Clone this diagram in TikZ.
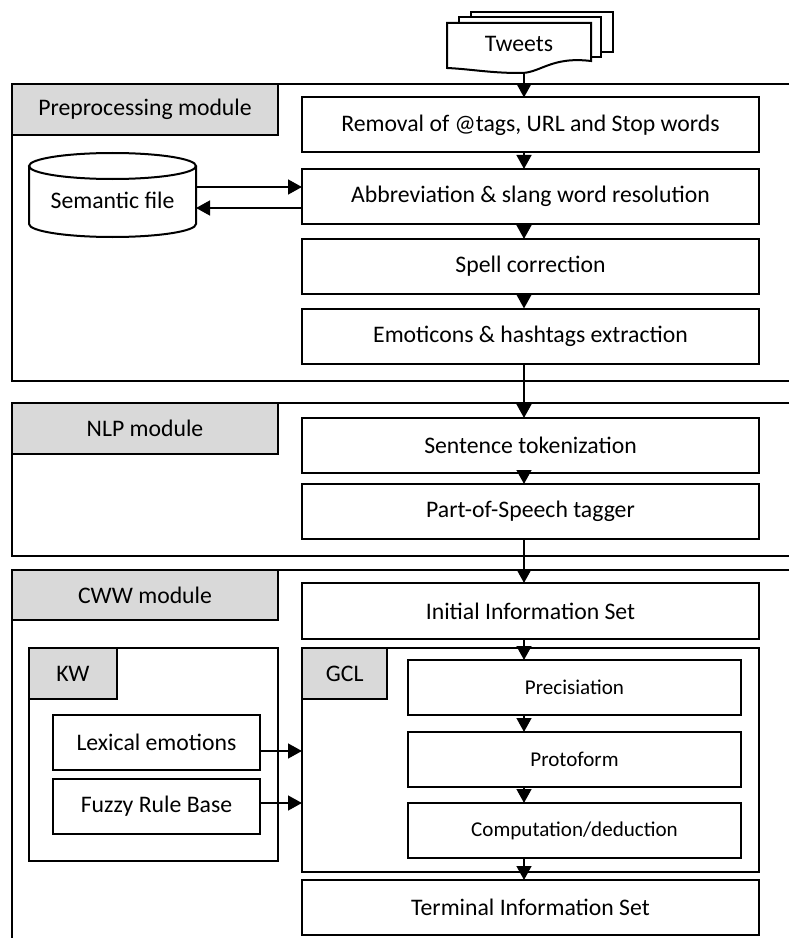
\documentclass[tikz,border=0pt]{standalone}
\usepackage{fontspec}
\setmainfont{Carlito}
\usetikzlibrary{arrows.meta,calc}
\definecolor{lblgray}{HTML}{D9D9D9}
\begin{document}
\begin{tikzpicture}[x=0.75pt,y=-0.75pt,
  every node/.style={inner sep=0pt,outer sep=0pt},
  frame/.style={line width=1.5pt},
  stepbox/.style={draw,line width=1.5pt,fill=white,minimum width=342.75pt,minimum height=41.25pt,font=\fontsize{17.8}{20}\selectfont},
  smallbox/.style={draw,line width=1.5pt,fill=white,minimum width=249.75pt,minimum height=41.25pt,font=\fontsize{15.8}{18}\selectfont},
  kwbox/.style={draw,line width=1.5pt,fill=white,minimum width=155.25pt,minimum height=41.25pt,font=\fontsize{17.8}{20}\selectfont},
  lbl/.style={draw,line width=1.5pt,fill=lblgray,anchor=north west,minimum height=38.25pt,font=\fontsize{17.8}{20}\selectfont},
  arr/.style={line width=1.9pt,-{Triangle[length=10.5pt,width=11pt]}}]
\useasboundingbox (0,0) rectangle (789,938);
% ---- module frames (open on the right)
\draw[frame] (789,84) -- (12,84) -- (12,381) -- (789,381);
\draw[frame] (789,403) -- (12,403) -- (12,556) -- (789,556);
\draw[frame] (789,570) -- (12,570) -- (12,940);
\node[lbl,minimum width=199.5pt] (prelbl) at (12,84) {Preprocessing module};
\node[lbl,minimum width=199.5pt] (nlplbl) at (12,403) {NLP module};
\node[lbl,minimum width=199.5pt,minimum height=37.5pt] (cwwlbl) at (12,570) {CWW module};
% ---- Tweets (multiple document)
\draw[line width=1.5pt,fill=white] (471,52) -- (471,12) -- (613,12) -- (613,52) -- cycle;
\draw[line width=1.5pt,fill=white] (459,57) -- (459,17) -- (601,17) -- (601,57) -- cycle;
\draw[line width=1.5pt,fill=white] (447,68) -- (447,23) -- (591,23) -- (591,61)
  .. controls (550,56) and (540,74) .. (519,73) .. controls (490,73) and (470,69) .. (447,68) -- cycle;
\node[font=\fontsize{17.8}{20}\selectfont] (tw) at (519,44) {Tweets};
\coordinate (twb) at (524,73);
\coordinate (ax) at (524,0);
% ---- preprocessing steps
\node[stepbox] (r1) at (530.5,125) {Removal of @tags, URL and Stop words};
\node[stepbox] (r2) at (530.5,196.5) {Abbreviation \& slang word resolution};
\node[stepbox] (r3) at (530.5,266.5) {Spell correction};
\node[stepbox] (r4) at (530.5,336) {Emoticons \& hashtags extraction};
% ---- semantic file cylinder
\node[minimum width=125.25pt,minimum height=63pt] (sem) at (112.5,195) {};
\draw[line width=1.5pt,fill=white] (29,166) -- (29,224) arc[start angle=180,end angle=0,x radius=83.5,y radius=13] -- (196,166);
\draw[line width=1.5pt] (112.5,166) ellipse[x radius=83.5,y radius=13];
\node[font=\fontsize{17.8}{20}\selectfont] at (112.5,200) {Semantic file};
\draw[arr] (sem.east |- 0,187) -- (r2.west |- 0,187);
\draw[arr] (r2.west |- 0,208) -- (sem.east |- 0,208);
% ---- NLP steps
\node[stepbox] (st) at (530.5,445.5) {Sentence tokenization};
\node[stepbox] (pos) at (530.5,511.5) {Part-of-Speech tagger};
% ---- CWW
\node[stepbox,minimum height=42pt] (iis) at (530.5,611) {Initial Information Set};
\node[draw,line width=1.5pt,minimum width=342.75pt,minimum height=168pt] (gcl) at (530.5,760) {};
\node[lbl,minimum width=64.1pt] (gcllbl) at (302,648) {GCL};
\node[smallbox] (prec) at (574.5,687.5) {Precisiation};
\node[smallbox] (proto) at (574.5,759.5) {Protoform};
\node[smallbox] (comp) at (574.5,830.5) {Computation/deduction};
\node[stepbox] (term) at (530.5,907.5) {Terminal Information Set};
\node[draw,line width=1.5pt,minimum width=186.75pt,minimum height=159.75pt] (kw) at (153.5,754.5) {};
\node[lbl,minimum width=66pt] (kwlbl) at (29,648) {KW};
\node[kwbox] (lex) at (156.5,742.5) {Lexical emotions};
\node[kwbox] (fuzzy) at (156.5,806.5) {Fuzzy Rule Base};
\draw[arr] (lex.east |- 0,751) -- (gcl.west |- 0,751);
\draw[arr] (fuzzy.east |- 0,803) -- (gcl.west |- 0,803);
% ---- vertical flow
\draw[arr] (twb) -- (r1.north -| ax);
\draw[arr] (r1.south -| ax) -- (r2.north -| ax);
\draw[arr] (r2.south -| ax) -- (r3.north -| ax);
\draw[arr] (r3.south -| ax) -- (r4.north -| ax);
\draw[arr] (r4.south -| ax) -- (st.north -| ax);
\draw[arr] (st.south -| ax) -- (pos.north -| ax);
\draw[arr] (pos.south -| ax) -- (iis.north -| ax);
\draw[arr] (iis.south -| ax) -- (prec.north -| ax);
\draw[arr] (prec.south -| ax) -- (proto.north -| ax);
\draw[arr] (proto.south -| ax) -- (comp.north -| ax);
\draw[arr] (comp.south -| ax) -- (term.north -| ax);
\end{tikzpicture}
\end{document}
